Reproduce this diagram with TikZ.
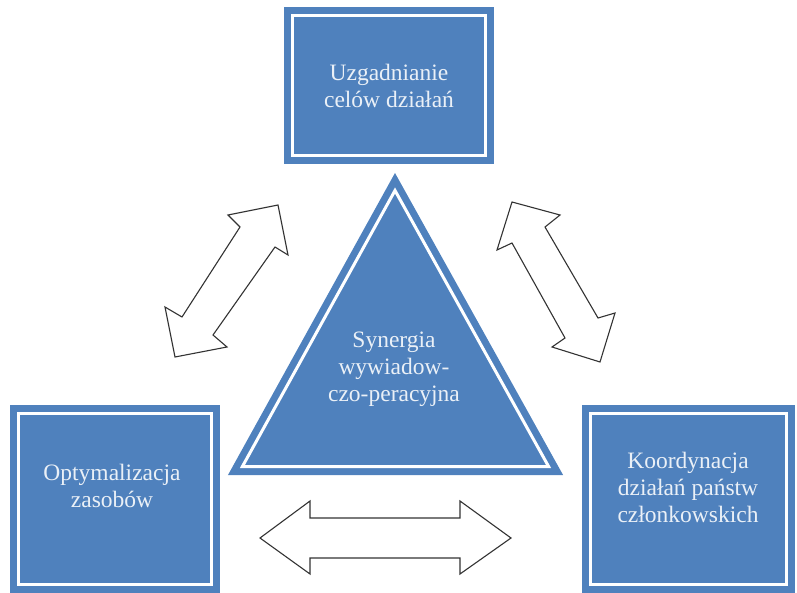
\documentclass[tikz,border=0pt]{standalone}
\usepackage{fontspec}
\setmainfont{Liberation Serif}
\definecolor{boxblue}{HTML}{4F81BD}
\tikzset{
  panel/.style={draw=boxblue, double=white, double distance=3pt, line width=7pt, fill=boxblue, inner sep=0pt},
  paneltext/.style={text=white!88!boxblue, font=\fontsize{23.5}{27}\selectfont, align=center},
  blockarrow/.style={draw=black!80, line width=1.1pt, fill=white, line join=miter}
}

\begin{document}
\begin{tikzpicture}[x=1pt,y=-1pt]
\useasboundingbox (0,0) rectangle (797,593);

\node[panel, minimum width=193pt, minimum height=140pt] (cele)   at (389,85.5) {};
\node[panel, minimum width=193pt, minimum height=171pt] (zasoby) at (115,499) {};
\node[panel, minimum width=196pt, minimum height=171pt] (koord)  at (688.5,499) {};

\coordinate (apex) at (395,190.5);
\coordinate (right) at (548.6,466.5);
\coordinate (left) at (242.4,466.5);
\draw[panel, line join=miter] (apex) -- (right) -- (left) -- cycle;

\node[paneltext] (celetext)   at (389,86)  {Uzgadnianie\\celów działań};
\node[paneltext] (zasobytext) at (112,486)  {Optymalizacja\\zasobów};
\node[paneltext] (koordtext)  at (688,487)  {Koordynacja\\działań państw\\członkowskich};
\node[paneltext] (synergia)   at (394,369)  {Synergia\\wywiadow-\\czo-peracyjna};

\draw[blockarrow] (278,205) -- (228,215) -- (240,227) -- (182,317) -- (165,307)
  -- (175,357) -- (227,347) -- (213,335) -- (275,247) -- (288,255) -- cycle;
\draw[blockarrow] (512,202) -- (497,250) -- (512,243) -- (565,338) -- (552,347)
  -- (600,362) -- (615,313) -- (598,318) -- (545,227) -- (560,215) -- cycle;
\draw[blockarrow] (260,538) -- (310,501) -- (310,518) -- (460,518) -- (460,501)
  -- (511,538) -- (460,574) -- (460,558) -- (310,558) -- (310,574) -- cycle;

\end{tikzpicture}
\end{document}
